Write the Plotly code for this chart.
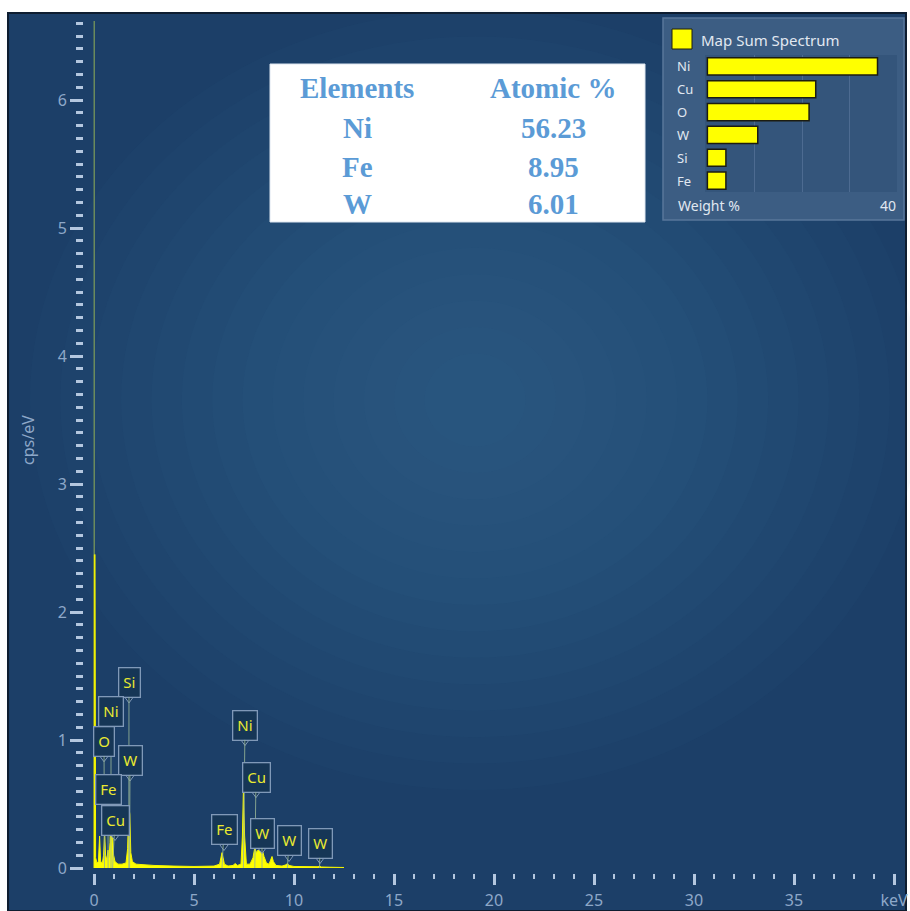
import plotly.graph_objects as go

# ---------------- data ----------------
# EDS sum spectrum (energy in keV, intensity in cps/eV)
energy_kev = [0.0, 0.01, 0.05, 0.08, 0.15, 0.22, 0.28, 0.33, 0.42, 0.48, 0.53, 0.58,
              0.64, 0.70, 0.75, 0.80, 0.85, 0.89, 0.93, 0.98, 1.05, 1.2, 1.4, 1.6,
              1.68, 1.74, 1.79, 1.84, 1.92, 2.1, 2.5, 3.0, 4.0, 5.0, 6.0, 6.28,
              6.40, 6.52, 6.7, 6.95, 7.06, 7.17, 7.35, 7.42, 7.47, 7.53, 7.62, 7.8,
              7.95, 8.04, 8.12, 8.2, 8.30, 8.40, 8.5, 8.62, 8.75, 8.84, 8.90, 8.97,
              9.1, 9.4, 9.6, 9.67, 9.75, 10.0, 10.5, 11.2, 11.28, 11.36, 11.8, 12.5]
cps_per_ev = [0.0, 2.45, 2.45, 0.08, 0.04, 0.05, 0.25, 0.05, 0.04, 0.10, 0.28, 0.10,
              0.06, 0.14, 0.08, 0.20, 0.46, 0.30, 0.25, 0.10, 0.05, 0.03, 0.03, 0.04,
              0.15, 0.48, 0.42, 0.12, 0.05, 0.03, 0.025, 0.02, 0.015, 0.012, 0.015, 0.03,
              0.12, 0.03, 0.015, 0.02, 0.035, 0.02, 0.03, 0.25, 0.61, 0.25, 0.03, 0.03,
              0.08, 0.16, 0.12, 0.14, 0.13, 0.15, 0.09, 0.04, 0.03, 0.06, 0.09, 0.05,
              0.02, 0.015, 0.025, 0.035, 0.02, 0.012, 0.01, 0.01, 0.015, 0.008, 0.006, 0.004]

# Identified lines (element tag, line energy in keV)
peak_labels = ["Si", "Ni", "O", "W", "Fe", "Cu", "Ni", "Cu", "Fe", "W", "W", "W"]
peak_energy = [1.74, 0.85, 0.525, 1.78, 0.705, 0.93, 7.47, 8.04, 6.40, 8.40, 9.67, 11.28]

# Map sum spectrum quantification (weight %)
quant_elements = ["Ni", "Cu", "O", "W", "Si", "Fe"]
quant_weight = [35.8, 22.8, 21.4, 10.6, 3.9, 3.9]

# Atomic % table
table_header = ["Elements", "Atomic %"]
table_elements = ["Ni", "Fe", "W"]
table_atomic = ["56.23", "8.95", "6.01"]

x_tick_vals = [0, 5, 10, 15, 20, 25, 30, 35, 40]
x_tick_text = ["0", "5", "10", "15", "20", "25", "30", "35", "keV"]
y_tick_vals = [0, 1, 2, 3, 4, 5, 6]

# ---------------- layout helpers ----------------
W, H = 910, 911
ML, MR, MT, MB = 83, 12, 21, 38
PW, PH = W - ML - MR, H - MT - MB
Y_PX_PER_UNIT = 128


def px(x):
    return (x - ML) / PW


def py(y):
    return (H - MB - y) / PH


# tag box centres (keV, cps/eV)
tag_box_x = [1.75, 0.85, 0.50, 1.80, 0.70, 1.05, 7.55, 8.10, 6.50, 8.40, 9.75, 11.30]
tag_box_y = [1.45, 1.22, 0.99, 0.84, 0.61, 0.375, 1.117, 0.71, 0.297, 0.273, 0.211, 0.195]

tick_col = "#b4c7df"
label_col = "#8ea8c8"
base_font = "Noto Sans, Open Sans, sans-serif"
tag_fill = "#163656"
tag_edge = "#8099b8"

fig = go.Figure()

fig.add_trace(go.Scatter(
    x=energy_kev, y=cps_per_ev, mode="lines",
    line=dict(color="#f5f500", width=1),
    fill="tozeroy", fillcolor="#ffff00",
    hoverinfo="skip", showlegend=False,
))

fig.add_trace(go.Bar(
    x=quant_weight, y=quant_elements, orientation="h",
    marker=dict(color="#ffff00", line=dict(color="#1c1c10", width=1.5)),
    width=0.75, xaxis="x2", yaxis="y2", showlegend=False, hoverinfo="skip",
))

shapes = []
# dark blue frame
shapes.append(dict(type="rect", xref="paper", yref="paper", layer="below",
                   x0=px(8), x1=px(906), y0=py(911), y1=py(13),
                   fillcolor="#1c3f68", line=dict(color="#0e1d30", width=2)))
# soft radial brightening toward the upper centre
n_glow = 14
for i in range(n_glow):
    f = 1 - i / n_glow
    rx, ry = 425 * f + 20, 370 * f + 20
    cx, cy = 475, 400
    shapes.append(dict(type="circle", xref="paper", yref="paper", layer="below",
                       x0=px(cx - rx), x1=px(cx + rx), y0=py(cy + ry), y1=py(cy - ry),
                       fillcolor="rgba(60,110,160,0.05)", line=dict(width=0)))
# atomic % table background
shapes.append(dict(type="rect", xref="paper", yref="paper", layer="below",
                   x0=px(270), x1=px(645), y0=py(222), y1=py(64),
                   fillcolor="#ffffff", line=dict(color="#dde6f0", width=1)))
# quantification panel
shapes.append(dict(type="rect", xref="paper", yref="paper", layer="below",
                   x0=px(663), x1=px(904), y0=py(220), y1=py(18),
                   fillcolor="#3c5d83", line=dict(color="#58779a", width=1.5)))
shapes.append(dict(type="rect", xref="paper", yref="paper", layer="below",
                   x0=px(705), x1=px(897), y0=py(192), y1=py(55),
                   fillcolor="#34557b", line=dict(width=0)))
shapes.append(dict(type="rect", xref="paper", yref="paper",
                   x0=px(672), x1=px(692), y0=py(49), y1=py(29),
                   fillcolor="#ffff00", line=dict(color="#20200a", width=1)))
# faint trace of the zero-energy strobe above the yellow spike
shapes.append(dict(type="line", xref="x", yref="y", x0=0.01, x1=0.01, y0=2.45, y1=6.62,
                   line=dict(color="#7f9d5a", width=1.2)))

# small pointer notch under each tag box
half_box = 14.5 / Y_PX_PER_UNIT
notch_h = 6 / Y_PX_PER_UNIT
notch_w = 0.22
for bx, by in zip(tag_box_x, tag_box_y):
    yb = by - half_box
    shapes.append(dict(
        type="path", xref="x", yref="y", layer="above",
        path=f"M {bx - notch_w},{yb} L {bx},{yb - notch_h} L {bx + notch_w},{yb} Z",
        fillcolor=tag_fill, line=dict(color=tag_edge, width=1),
    ))

annotations = []
# peak tags with leader lines
for lab, e, bx, by in zip(peak_labels, peak_energy, tag_box_x, tag_box_y):
    annotations.append(dict(
        x=e, y=0, xref="x", yref="y", ax=bx, ay=by, axref="x", ayref="y",
        text=lab, showarrow=True, arrowhead=0, arrowwidth=1, standoff=0,
        arrowcolor="rgba(150,180,150,0.85)",
        bgcolor=tag_fill, bordercolor=tag_edge, borderwidth=1.3, borderpad=4,
        font=dict(family=base_font, size=15, color="#eaea30"),
    ))

# axis title
annotations.append(dict(x=px(28), y=py(440), xref="paper", yref="paper", text="cps/eV",
                        textangle=-90, showarrow=False, xanchor="center", yanchor="middle",
                        font=dict(family=base_font, size=16, color=label_col)))

# atomic % table text
serif = "Liberation Serif, Times New Roman, serif"
tcol = "#5b9bd6"
row_y = [88, 128, 167, 204]
col_x = [357, 553]
tfont = dict(family=serif, size=29, color=tcol, weight="bold")
for cx, txt in zip(col_x, table_header):
    annotations.append(dict(x=px(cx), y=py(row_y[0]), xref="paper", yref="paper", text=txt,
                            showarrow=False, xanchor="center", yanchor="middle", font=tfont))
for ry, el, at in zip(row_y[1:], table_elements, table_atomic):
    annotations.append(dict(x=px(col_x[0]), y=py(ry), xref="paper", yref="paper", text=el,
                            showarrow=False, xanchor="center", yanchor="middle", font=tfont))
    annotations.append(dict(x=px(col_x[1]), y=py(ry), xref="paper", yref="paper", text=at,
                            showarrow=False, xanchor="center", yanchor="middle", font=tfont))

# quantification panel text
pcol = "#e1e8f1"
annotations.append(dict(x=px(699), y=py(40), xref="paper", yref="paper",
                        text="Map Sum Spectrum", showarrow=False,
                        xanchor="left", yanchor="middle",
                        font=dict(family=base_font, size=15, color=pcol)))
for i, el in enumerate(quant_elements):
    annotations.append(dict(x=px(675), y=i, xref="paper", yref="y2", text=el,
                            showarrow=False, xanchor="left", yanchor="middle",
                            font=dict(family=base_font, size=13, color=pcol)))
annotations.append(dict(x=px(676), y=py(205), xref="paper", yref="paper",
                        text="Weight %", showarrow=False, xanchor="left", yanchor="middle",
                        font=dict(family=base_font, size=14, color=pcol)))
annotations.append(dict(x=px(898), y=py(205), xref="paper", yref="paper",
                        text="40", showarrow=False, xanchor="right", yanchor="middle",
                        font=dict(family=base_font, size=14, color=pcol)))

fig.update_layout(
    width=W, height=H, autosize=False,
    margin=dict(l=ML, r=MR, t=MT, b=MB, pad=0),
    paper_bgcolor="#ffffff", plot_bgcolor="rgba(0,0,0,0)",
    showlegend=False,
    shapes=shapes, annotations=annotations,
    xaxis=dict(
        domain=[px(92), 1], range=[-0.1, 40.2], anchor="free", position=0,
        automargin=False,
        tickmode="array", tickvals=x_tick_vals, ticktext=x_tick_text,
        ticks="outside", ticklen=11, tickwidth=2.5, tickcolor=tick_col,
        minor=dict(dtick=1, tick0=0, ticks="outside", ticklen=5, tickwidth=2,
                   tickcolor=tick_col),
        tickfont=dict(family=base_font, size=16, color=label_col),
        ticklabelstandoff=2,
        showgrid=False, zeroline=False, showline=False,
    ),
    yaxis=dict(
        domain=[5 / PH, 1], range=[0, (H - MB - 5 - MT) / Y_PX_PER_UNIT],
        anchor="free", position=0, automargin=False,
        tickmode="array", tickvals=y_tick_vals,
        ticks="outside", ticklen=13, tickwidth=3, tickcolor=tick_col,
        minor=dict(dtick=0.1, tick0=0, ticks="outside", ticklen=7, tickwidth=2.5,
                   tickcolor=tick_col),
        tickfont=dict(family=base_font, size=16, color=label_col),
        showgrid=False, zeroline=False, showline=False,
    ),
    xaxis2=dict(
        domain=[px(705), px(897)], range=[-0.5, 39.9], anchor="y2", automargin=False,
        tickmode="array", tickvals=[10, 20, 30], showticklabels=False,
        showgrid=True, gridcolor="rgba(80,110,148,0.9)", gridwidth=1,
        zeroline=False, showline=False, ticks="",
    ),
    yaxis2=dict(
        domain=[py(192), py(55)], anchor="x2", automargin=False,
        categoryorder="array", categoryarray=quant_elements, autorange="reversed",
        showticklabels=False, showgrid=False, zeroline=False, showline=False, ticks="",
    ),
)

fig.write_html("out.html")
